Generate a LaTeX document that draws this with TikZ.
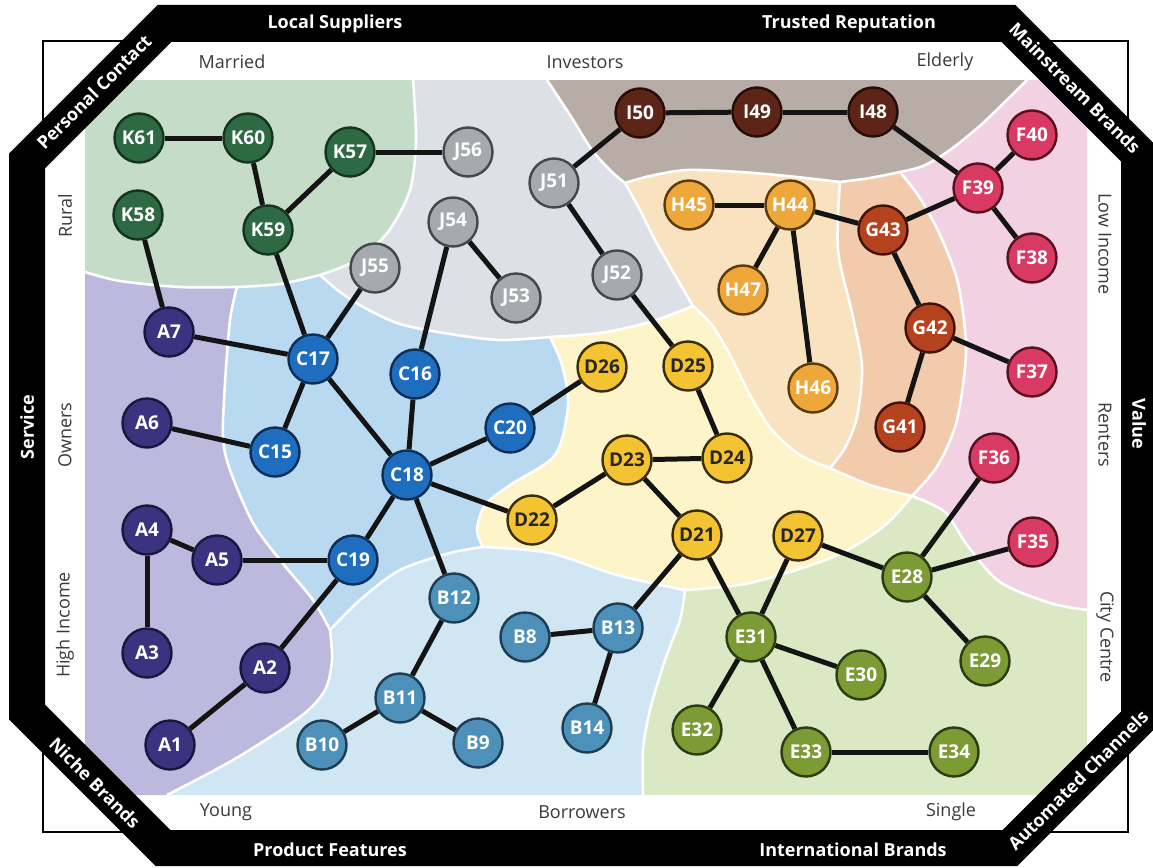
\documentclass[tikz,border=0pt]{standalone}
\usepackage{fontspec}
\setmainfont{Open Sans}
\pgfdeclarelayer{regions}
\pgfdeclarelayer{edges}
\pgfsetlayers{regions,edges,main}
\definecolor{rK}{HTML}{C5DDC8}
\definecolor{rJ}{HTML}{DDE0E6}
\definecolor{rI}{HTML}{B8ADA6}
\definecolor{rH}{HTML}{F8E2C0}
\definecolor{rG}{HTML}{F2CBAD}
\definecolor{rF}{HTML}{F2D1E3}
\definecolor{rD}{HTML}{FDF5C9}
\definecolor{rE}{HTML}{DAE8C4}
\definecolor{rB}{HTML}{D0E6F3}
\definecolor{rC}{HTML}{B9D9F1}
\definecolor{rA}{HTML}{BDB8DD}
\definecolor{nKf}{HTML}{2D6A44}\definecolor{nKd}{HTML}{15331F}
\definecolor{nJf}{HTML}{A6A9AE}\definecolor{nJd}{HTML}{45474B}
\definecolor{nCf}{HTML}{1E6DBF}\definecolor{nCd}{HTML}{0E2E55}
\definecolor{nAf}{HTML}{3A3480}\definecolor{nAd}{HTML}{1A173F}
\definecolor{nBf}{HTML}{4D90B9}\definecolor{nBd}{HTML}{1D3D52}
\definecolor{nDf}{HTML}{F3C331}\definecolor{nDd}{HTML}{3A2C05}
\definecolor{nHf}{HTML}{EDA73A}\definecolor{nHd}{HTML}{5A3A08}
\definecolor{nGf}{HTML}{B4421E}\definecolor{nGd}{HTML}{431205}
\definecolor{nIf}{HTML}{5D2517}\definecolor{nId}{HTML}{260D05}
\definecolor{nFf}{HTML}{D93A63}\definecolor{nFd}{HTML}{58101F}
\definecolor{nEf}{HTML}{7C9B35}\definecolor{nEd}{HTML}{2C3B10}
\definecolor{labgray}{HTML}{3A3A3A}
% boundary segments (forward s.., reverse r..)
\def\sKJ{-- plot[smooth] coordinates {(413,80) (416,140) (410,190) (388,232) (357,260) (320,275)}}
\def\rKJ{-- plot[smooth] coordinates {(320,275) (357,260) (388,232) (410,190) (416,140) (413,80)}}
\def\sKC{-- plot[smooth] coordinates {(320,275) (280,284) (237,287)}}
\def\rKC{-- plot[smooth] coordinates {(237,287) (280,284) (320,275)}}
\def\sKA{-- plot[smooth] coordinates {(237,287) (180,287) (120,281) (85,272)}}
\def\rKA{-- plot[smooth] coordinates {(85,272) (120,281) (180,287) (237,287)}}
\def\sJI{-- plot[smooth] coordinates {(547,80) (570,115) (592,150) (612,172) (625,183)}}
\def\rJI{-- plot[smooth] coordinates {(625,183) (612,172) (592,150) (570,115) (547,80)}}
\def\sJH{-- plot[smooth] coordinates {(625,183) (640,210) (655,240) (675,275) (693,306)}}
\def\rJH{-- plot[smooth] coordinates {(693,306) (675,275) (655,240) (640,210) (625,183)}}
\def\sJD{-- plot[smooth] coordinates {(693,306) (650,322) (600,333) (550,337)}}
\def\sJC{-- plot[smooth] coordinates {(550,337) (500,340) (450,334) (400,324) (365,308) (340,292) (320,275)}}
\def\rJC{-- plot[smooth] coordinates {(320,275) (340,292) (365,308) (400,324) (450,334) (500,340) (550,337)}}
\def\sIH{-- plot[smooth] coordinates {(625,183) (650,176) (687,170) (740,172) (787,176) (840,182)}}
\def\rIH{-- plot[smooth] coordinates {(840,182) (787,176) (740,172) (687,170) (650,176) (625,183)}}
\def\sIG{-- plot[smooth] coordinates {(840,182) (870,178) (900,172)}}
\def\rIG{-- plot[smooth] coordinates {(900,172) (870,178) (840,182)}}
\def\sIF{-- plot[smooth] coordinates {(900,172) (923,166) (950,150) (983,123) (1027,80)}}
\def\rIF{-- plot[smooth] coordinates {(1027,80) (983,123) (950,150) (923,166) (900,172)}}
\def\sHG{-- plot[smooth] coordinates {(840,182) (838,250) (853,317) (862,367) (857,417) (845,448) (830,468)}}
\def\rHG{-- plot[smooth] coordinates {(830,468) (845,448) (857,417) (862,367) (853,317) (838,250) (840,182)}}
\def\sHD{-- plot[smooth] coordinates {(830,468) (800,455) (772,430) (750,395) (730,355) (712,325) (693,306)}}
\def\sGF{-- plot[smooth] coordinates {(900,172) (920,198) (940,235) (958,283) (966,350) (957,420) (938,465) (912,496)}}
\def\rGF{-- plot[smooth] coordinates {(912,496) (938,465) (957,420) (966,350) (958,283) (940,235) (920,198) (900,172)}}
\def\sGD{-- plot[smooth] coordinates {(830,468) (870,485) (912,496)}}
\def\rGD{-- plot[smooth] coordinates {(912,496) (870,485) (830,468)}}
\def\sFE{-- plot[smooth] coordinates {(912,496) (945,512) (967,545) (1000,582) (1050,603) (1087,610)}}
\def\rFE{-- plot[smooth] coordinates {(1087,610) (1050,603) (1000,582) (967,545) (945,512) (912,496)}}
\def\sDE{-- plot[smooth] coordinates {(912,496) (883,527) (833,557) (750,583) (685,590)}}
\def\rDE{-- plot[smooth] coordinates {(685,590) (750,583) (833,557) (883,527) (912,496)}}
\def\sBE{-- plot[smooth] coordinates {(685,590) (680,620) (665,660) (650,710) (643,750) (643,795)}}
\def\rBE{-- plot[smooth] coordinates {(643,795) (643,750) (650,710) (665,660) (680,620) (685,590)}}
\def\sBD{-- plot[smooth] coordinates {(483,547) (550,553) (617,575) (685,590)}}
\def\sCD{-- plot[smooth] coordinates {(550,337) (562,365) (568,405) (555,455) (510,485) (485,505) (477,530) (483,547)}}
\def\sCB{-- plot[smooth] coordinates {(483,547) (450,553) (400,570) (360,600) (330,630)}}
\def\rCB{-- plot[smooth] coordinates {(330,630) (360,600) (400,570) (450,553) (483,547)}}
\def\sCA{-- plot[smooth] coordinates {(330,630) (313,600) (280,560) (253,523) (230,470) (223,437) (225,383) (230,320) (237,287)}}
\def\rCA{-- plot[smooth] coordinates {(237,287) (230,320) (225,383) (223,437) (230,470) (253,523) (280,560) (313,600) (330,630)}}
\def\sAB{-- plot[smooth] coordinates {(330,630) (332,660) (325,690) (300,717) (233,760) (167,795)}}
\def\rAB{-- plot[smooth] coordinates {(167,795) (233,760) (300,717) (325,690) (332,660) (330,630)}}
\begin{document}
\begin{tikzpicture}[x=1pt,y=-1pt,
  nd/.style={circle,minimum size=49pt,inner sep=0pt,line width=2.4pt,text=white,
    font=\fontsize{19}{19}\selectfont\bfseries},
  knode/.style={nd,fill=nKf,draw=nKd},
  jnode/.style={nd,fill=nJf,draw=nJd},
  cnode/.style={nd,fill=nCf,draw=nCd},
  anode/.style={nd,fill=nAf,draw=nAd},
  bnode/.style={nd,fill=nBf,draw=nBd},
  dnode/.style={nd,fill=nDf,draw=nDd,text=black!85},
  hnode/.style={nd,fill=nHf,draw=nHd},
  gnode/.style={nd,fill=nGf,draw=nGd},
  inode/.style={nd,fill=nIf,draw=nId},
  fnode/.style={nd,fill=nFf,draw=nFd},
  enode/.style={nd,fill=nEf,draw=nEd},
  edgeline/.style={line width=5pt,draw=black!92},
  wb/.style={draw=white,line width=2.6pt},
  bandtxt/.style={text=white,font=\fontsize{18}{18}\selectfont\bfseries,inner sep=0pt},
  lab/.style={text=labgray,font=\fontsize{18}{18}\selectfont,inner sep=0pt}]
\useasboundingbox (0,0) rectangle (1153,867);
\begin{pgfonlayer}{regions}
\fill[white] (0,0) rectangle (1153,867);
\fill[rK] (85,80) -- (413,80) \sKJ \sKC \sKA -- cycle;
\fill[rJ] (413,80) -- (547,80) \sJI \sJH \sJD \sJC \rKJ -- cycle;
\fill[rI] (547,80) -- (1027,80) \rIF \rIG \rIH \rJI -- cycle;
\fill[rH] (625,183) \sIH \sHG \sHD \rJH -- cycle;
\fill[rG] (840,182) \sIG \sGF \rGD \rHG -- cycle;
\fill[rF] (1027,80) -- (1087,80) -- (1087,610) \rFE \rGF \sIF -- cycle;
\fill[rE] (912,496) \sFE -- (1087,795) -- (643,795) \rBE \rDE -- cycle;
\fill[rD] (550,337) \sCD \sBD \rDE \rGD \sHD \sJD -- cycle;
\fill[rC] (237,287) \rKC \rJC \sCD \sCB \sCA -- cycle;
\fill[rA] (85,272) \rKA \rCA \sAB -- (85,795) -- cycle;
\fill[rB] (167,795) \rAB \rCB \sBD \sBE -- cycle;
\path[wb] (413,80) \sKJ;
\path[wb] (320,275) \sKC;
\path[wb] (237,287) \sKA;
\path[wb] (547,80) \sJI;
\path[wb] (625,183) \sJH;
\path[wb] (693,306) \sJD;
\path[wb] (550,337) \sJC;
\path[wb] (625,183) \sIH;
\path[wb] (840,182) \sIG;
\path[wb] (900,172) \sIF;
\path[wb] (840,182) \sHG;
\path[wb] (830,468) \sHD;
\path[wb] (900,172) \sGF;
\path[wb] (830,468) \sGD;
\path[wb] (912,496) \sFE;
\path[wb] (912,496) \sDE;
\path[wb] (685,590) \sBE;
\path[wb] (483,547) \sBD;
\path[wb] (550,337) \sCD;
\path[wb] (483,547) \sCB;
\path[wb] (330,630) \sCA;
\path[wb] (330,630) \sAB;
\end{pgfonlayer}
% frame
\draw[line width=1.8pt] (43,41) rectangle (1128,832);
\draw[line width=36pt,line join=miter] (165,23) -- (1008,23) -- (1139,154) -- (1139,719) -- (1010,848) -- (163,848) -- (27,712) -- (27,161) -- cycle;
% band labels
\node[bandtxt] (t1) at (335,24) {Local Suppliers};
\node[bandtxt] (t2) at (849,24) {Trusted Reputation};
\node[bandtxt] (t3) at (330,850) {Product Features};
\node[bandtxt] (t4) at (853,850) {International Brands};
\node[bandtxt,rotate=90] (t5) at (27,427) {Service};
\node[bandtxt,rotate=-90] (t6) at (1139,424) {Value};
\node[bandtxt,rotate=45] (t7) at (94,92) {Personal Contact};
\node[bandtxt,rotate=-45] (t8) at (1075,88) {Mainstream Brands};
\node[bandtxt,rotate=-45] (t9) at (95,783) {Niche Brands};
\node[bandtxt,rotate=45] (t10) at (1078,780) {Automated Channels};
% inner labels
\node[lab] (l1) at (232,62) {Married};
\node[lab] (l2) at (585,62) {Investors};
\node[lab] (l3) at (945,62) {Elderly};
\node[lab] (l4) at (226,812) {Young};
\node[lab] (l5) at (582,812) {Borrowers};
\node[lab] (l6) at (951,812) {Single};
\node[lab,rotate=90] (l7) at (65,216) {Rural};
\node[lab,rotate=90] (l8) at (65,435) {Owners};
\node[lab,rotate=90] (l9) at (65,625) {High Income};
\node[lab,rotate=-90] (l10) at (1105,244) {Low Income};
\node[lab,rotate=-90] (l11) at (1105,435) {Renters};
\node[lab,rotate=-90] (l12) at (1105,637) {City Centre};
% nodes
\node[knode] (K61) at (139,138) {K61};
\node[knode] (K60) at (248,138) {K60};
\node[knode] (K57) at (350,152) {K57};
\node[knode] (K58) at (138,215) {K58};
\node[knode] (K59) at (268,230) {K59};
\node[jnode] (J56) at (468,152) {J56};
\node[jnode] (J55) at (375,268) {J55};
\node[jnode] (J54) at (453,222) {J54};
\node[jnode] (J53) at (516,298) {J53};
\node[jnode] (J51) at (554,183) {J51};
\node[jnode] (J52) at (617,275) {J52};
\node[inode] (I50) at (640,113) {I50};
\node[inode] (I49) at (757,112) {I49};
\node[inode] (I48) at (873,112) {I48};
\node[fnode] (F40) at (1032,135) {F40};
\node[fnode] (F39) at (978,188) {F39};
\node[fnode] (F38) at (1032,258) {F38};
\node[fnode] (F37) at (1032,372) {F37};
\node[fnode] (F36) at (994,458) {F36};
\node[fnode] (F35) at (1033,542) {F35};
\node[hnode] (H45) at (689,205) {H45};
\node[hnode] (H44) at (790,205) {H44};
\node[hnode] (H47) at (743,290) {H47};
\node[hnode] (H46) at (813,388) {H46};
\node[gnode] (G43) at (883,230) {G43};
\node[gnode] (G42) at (930,328) {G42};
\node[gnode] (G41) at (900,427) {G41};
\node[anode] (A7) at (169,332) {A7};
\node[anode] (A6) at (147,423) {A6};
\node[anode] (A4) at (147,530) {A4};
\node[anode] (A5) at (217,560) {A5};
\node[anode] (A3) at (147,653) {A3};
\node[anode] (A2) at (265,668) {A2};
\node[anode] (A1) at (170,745) {A1};
\node[cnode] (C17) at (313,359) {C17};
\node[cnode] (C16) at (415,374) {C16};
\node[cnode] (C15) at (275,452) {C15};
\node[cnode] (C20) at (510,428) {C20};
\node[cnode] (C18) at (407,475) {C18};
\node[cnode] (C19) at (353,560) {C19};
\node[dnode] (D26) at (602,367) {D26};
\node[dnode] (D25) at (688,366) {D25};
\node[dnode] (D23) at (627,460) {D23};
\node[dnode] (D24) at (727,458) {D24};
\node[dnode] (D22) at (532,520) {D22};
\node[dnode] (D21) at (697,535) {D21};
\node[dnode] (D27) at (798,536) {D27};
\node[bnode] (B12) at (454,598) {B12};
\node[bnode] (B8) at (525,637) {B8};
\node[bnode] (B13) at (618,628) {B13};
\node[bnode] (B11) at (400,698) {B11};
\node[bnode] (B10) at (322,745) {B10};
\node[bnode] (B9) at (478,743) {B9};
\node[bnode] (B14) at (587,728) {B14};
\node[enode] (E28) at (907,577) {E28};
\node[enode] (E31) at (751,637) {E31};
\node[enode] (E30) at (861,675) {E30};
\node[enode] (E29) at (985,661) {E29};
\node[enode] (E32) at (697,730) {E32};
\node[enode] (E33) at (806,752) {E33};
\node[enode] (E34) at (954,752) {E34};
% connectors
\begin{pgfonlayer}{edges}
\foreach \a/\b in {K61/K60,K60/K59,K59/K57,K57/J56,K58/A7,K59/C17,A7/C17,J55/C17,C17/C15,C15/A6,C17/C18,C16/J54,C16/C18,J54/J53,C18/C20,C20/D26,C18/C19,C18/D22,C18/B12,C19/A5,A5/A4,A4/A3,C19/A2,A2/A1,B12/B11,B11/B10,B11/B9,B8/B13,B13/B14,B13/D21,D22/D23,D23/D24,D23/D21,D24/D25,D25/J52,J52/J51,J51/I50,I50/I49,I49/I48,I48/F39,F39/F40,F39/F38,F39/G43,G43/H44,H44/H45,H44/H47,H44/H46,G43/G42,G42/F37,G42/G41,D21/E31,D27/E31,D27/E28,E28/F36,E28/F35,E28/E29,E31/E30,E31/E32,E31/E33,E33/E34}
  \draw[edgeline] (\a) -- (\b);
\end{pgfonlayer}
\end{tikzpicture}
\end{document}
